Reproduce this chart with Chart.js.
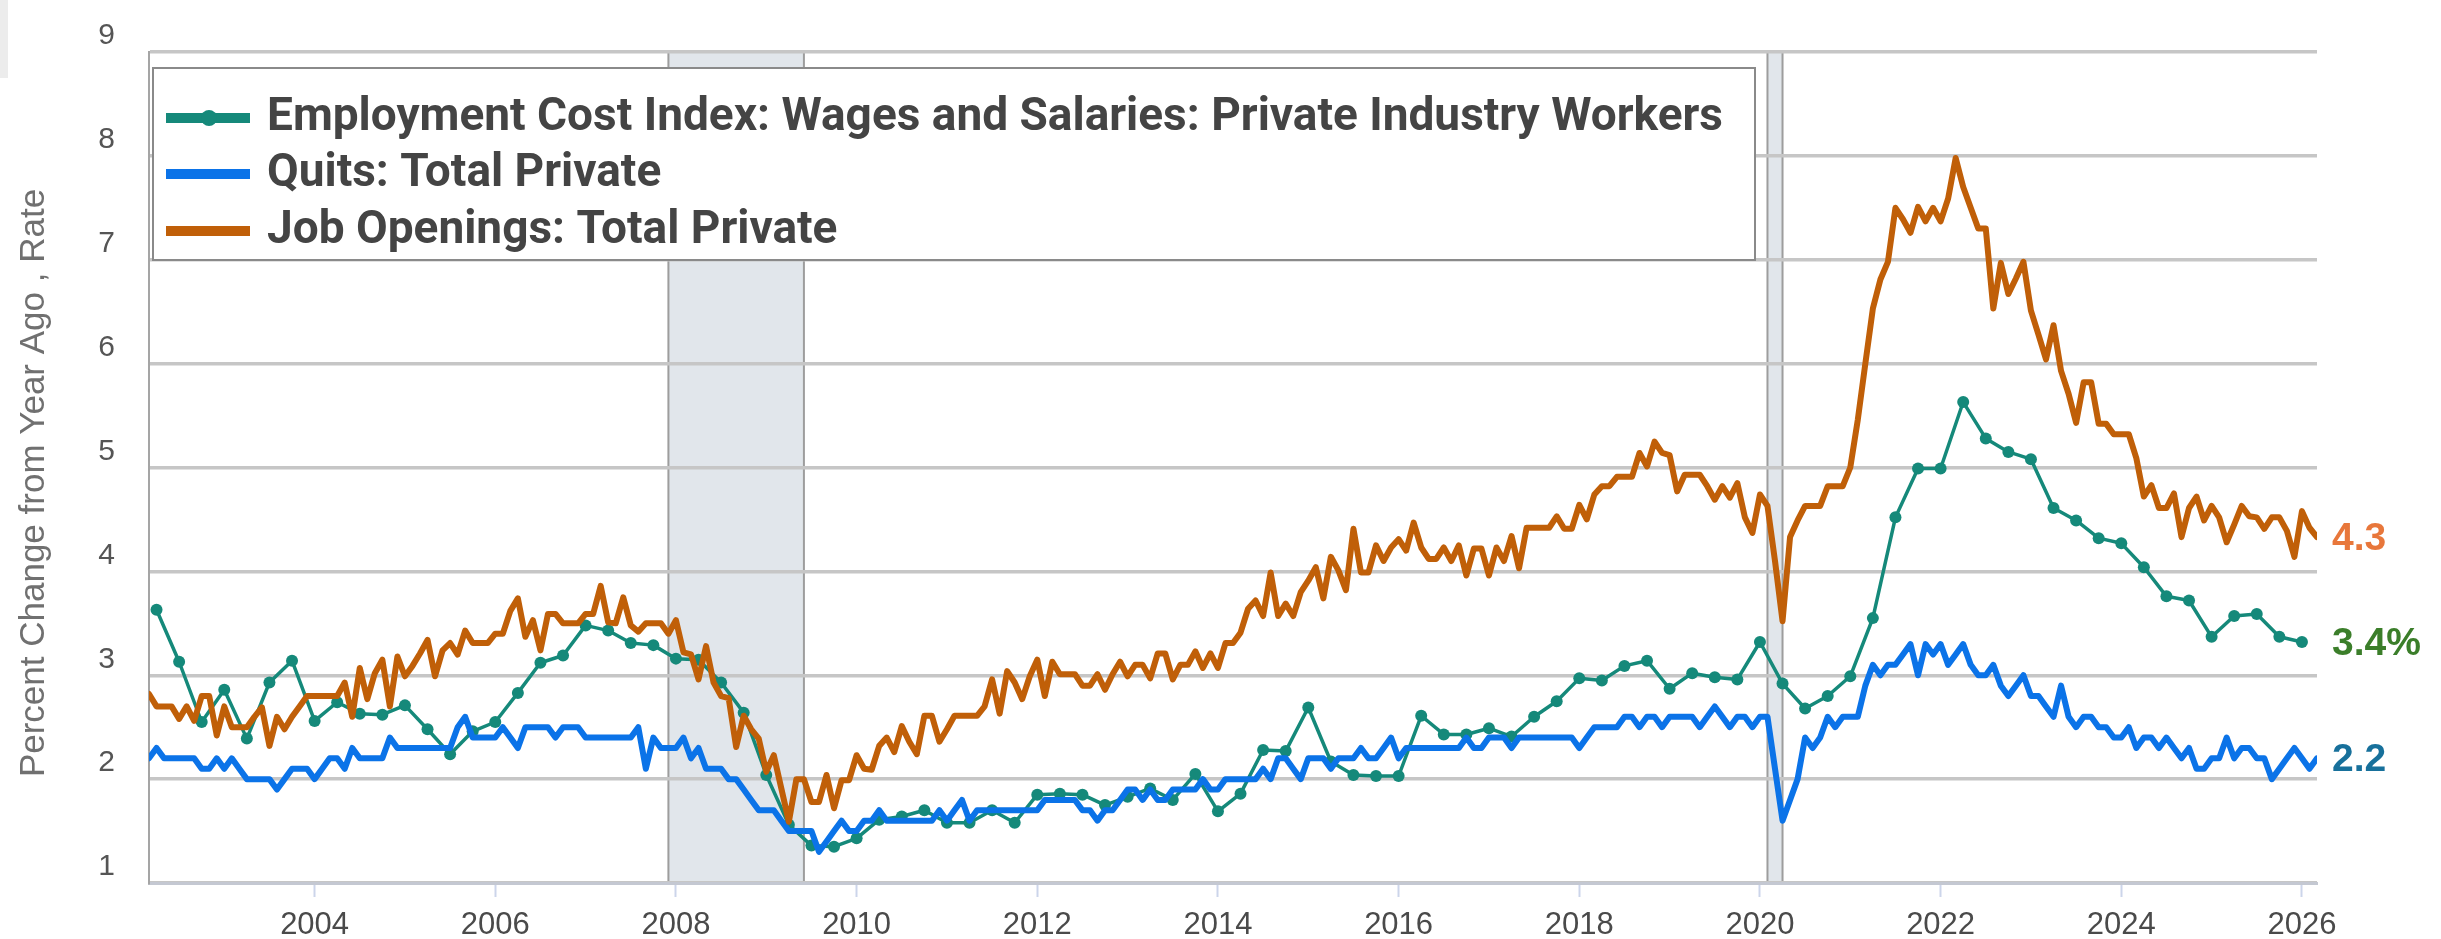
<!DOCTYPE html>
<html><head><meta charset="utf-8">
<script src="https://cdn.jsdelivr.net/npm/chart.js@4.4.1/dist/chart.umd.min.js"></script>
<style>html,body{margin:0;padding:0;background:#fff;overflow:hidden}canvas{display:block}</style>
</head><body>
<canvas id="c" width="2441" height="939"></canvas>
<script>
// ---------- DATA ----------
const seriesNames = [
  'Employment Cost Index: Wages and Salaries: Private Industry Workers',
  'Quits: Total Private',
  'Job Openings: Total Private'
];
const firstMonth = 2002 + 2/12;   // March 2002, monthly series start
const firstQuarter = 2002.25;     // quarterly ECI series start
// ECI wages & salaries, % change from year ago (quarterly)
const eciWages = [
  3.63,3.13,2.55,2.86,2.39,2.93,3.14,2.56,
  2.74,2.63,2.62,2.71,2.48,2.24,2.46,2.55,
  2.83,3.12,3.19,3.48,3.43,3.31,3.29,3.16,
  3.15,2.93,2.64,2.04,1.56,1.36,1.35,1.43,
  1.61,1.64,1.70,1.58,1.58,1.70,1.58,1.85,
  1.86,1.85,1.75,1.83,1.91,1.80,2.05,1.69,
  1.86,2.28,2.27,2.69,2.17,2.04,2.03,2.03,
  2.61,2.43,2.43,2.49,2.41,2.60,2.75,2.97,
  2.95,3.09,3.14,2.87,3.02,2.98,2.96,3.32,
  2.92,2.68,2.80,2.99,3.55,4.52,4.99,4.99,
  5.63,5.28,5.15,5.08,4.61,4.49,4.32,4.27,
  4.04,3.76,3.72,3.37,3.57,3.59,3.37,3.32
];
// Quits rate, total private (monthly)
const quitsRate = [
  2.2,2.3,2.2,2.2,2.2,2.2,2.2,2.1,2.1,2.2,
  2.1,2.2,2.1,2.0,2.0,2.0,2.0,1.9,2.0,2.1,
  2.1,2.1,2.0,2.1,2.2,2.2,2.1,2.3,2.2,2.2,
  2.2,2.2,2.4,2.3,2.3,2.3,2.3,2.3,2.3,2.3,
  2.3,2.5,2.6,2.4,2.4,2.4,2.4,2.5,2.4,2.3,
  2.5,2.5,2.5,2.5,2.4,2.5,2.5,2.5,2.4,2.4,
  2.4,2.4,2.4,2.4,2.4,2.5,2.1,2.4,2.3,2.3,
  2.3,2.4,2.2,2.3,2.1,2.1,2.1,2.0,2.0,1.9,
  1.8,1.7,1.7,1.7,1.6,1.5,1.5,1.5,1.5,1.3,
  1.4,1.5,1.6,1.5,1.5,1.6,1.6,1.7,1.6,1.6,
  1.6,1.6,1.6,1.6,1.6,1.7,1.6,1.7,1.8,1.6,
  1.7,1.7,1.7,1.7,1.7,1.7,1.7,1.7,1.7,1.8,
  1.8,1.8,1.8,1.8,1.7,1.7,1.6,1.7,1.7,1.8,
  1.9,1.9,1.8,1.9,1.8,1.8,1.9,1.9,1.9,1.9,
  2.0,1.9,1.9,2.0,2.0,2.0,2.0,2.0,2.1,2.0,
  2.2,2.2,2.1,2.0,2.2,2.2,2.2,2.1,2.2,2.2,
  2.2,2.3,2.2,2.2,2.3,2.4,2.2,2.3,2.3,2.3,
  2.3,2.3,2.3,2.3,2.3,2.4,2.3,2.3,2.4,2.4,
  2.4,2.3,2.4,2.4,2.4,2.4,2.4,2.4,2.4,2.4,
  2.3,2.4,2.5,2.5,2.5,2.5,2.6,2.6,2.5,2.6,
  2.6,2.5,2.6,2.6,2.6,2.6,2.5,2.6,2.7,2.6,
  2.5,2.6,2.6,2.5,2.6,2.6,2.1,1.6,1.8,2.0,
  2.4,2.3,2.4,2.6,2.5,2.6,2.6,2.6,2.9,3.1,
  3.0,3.1,3.1,3.2,3.3,3.0,3.3,3.2,3.3,3.1,
  3.2,3.3,3.1,3.0,3.0,3.1,2.9,2.8,2.9,3.0,
  2.8,2.8,2.7,2.6,2.9,2.6,2.5,2.6,2.6,2.5,
  2.5,2.4,2.4,2.5,2.3,2.4,2.4,2.3,2.4,2.3,
  2.2,2.3,2.1,2.1,2.2,2.2,2.4,2.2,2.3,2.3,
  2.2,2.2,2.0,2.1,2.2,2.3,2.2,2.1,2.2
];
// Job openings rate, total private (monthly)
const jobOpeningsRate = [
  2.82,2.70,2.70,2.70,2.58,2.70,2.56,2.80,2.80,2.42,
  2.70,2.50,2.50,2.50,2.60,2.69,2.32,2.60,2.48,2.60,
  2.70,2.80,2.80,2.80,2.80,2.80,2.93,2.60,3.07,2.77,
  3.02,3.15,2.70,3.18,2.99,3.09,3.21,3.34,2.99,3.24,
  3.31,3.20,3.43,3.31,3.31,3.31,3.40,3.40,3.62,3.74,
  3.37,3.53,3.24,3.59,3.59,3.50,3.50,3.50,3.59,3.59,
  3.86,3.51,3.50,3.75,3.48,3.42,3.50,3.50,3.50,3.40,
  3.53,3.22,3.20,2.96,3.28,2.93,2.80,2.78,2.31,2.61,
  2.48,2.39,2.07,2.23,1.91,1.59,2.00,2.00,1.78,1.78,
  2.04,1.72,1.99,1.99,2.23,2.10,2.09,2.32,2.40,2.26,
  2.51,2.36,2.24,2.61,2.61,2.36,2.48,2.61,2.61,2.61,
  2.61,2.70,2.96,2.63,3.04,2.93,2.77,2.99,3.15,2.80,
  3.13,3.01,3.01,3.01,2.90,2.90,3.01,2.86,3.01,3.13,
  2.99,3.10,3.10,2.97,3.21,3.21,2.96,3.10,3.10,3.23,
  3.07,3.21,3.07,3.31,3.31,3.41,3.64,3.72,3.57,3.99,
  3.57,3.69,3.57,3.80,3.91,4.04,3.74,4.14,4.01,3.82,
  4.41,3.99,3.99,4.25,4.10,4.23,4.31,4.20,4.47,4.23,
  4.12,4.12,4.23,4.10,4.25,3.96,4.22,4.22,3.96,4.23,
  4.10,4.34,4.03,4.42,4.42,4.42,4.42,4.53,4.41,4.41,
  4.64,4.50,4.74,4.82,4.82,4.91,4.91,4.91,5.14,5.01,
  5.25,5.14,5.12,4.77,4.93,4.93,4.93,4.82,4.69,4.82,
  4.71,4.85,4.52,4.37,4.74,4.63,4.10,3.52,4.33,4.49,
  4.63,4.63,4.63,4.82,4.82,4.82,5.00,5.46,6.00,6.53,
  6.81,6.98,7.50,7.39,7.26,7.51,7.37,7.50,7.37,7.59,
  7.98,7.70,7.50,7.30,7.30,6.53,6.97,6.67,6.82,6.98,
  6.51,6.28,6.04,6.37,5.93,5.71,5.43,5.82,5.82,5.42,
  5.42,5.32,5.32,5.32,5.09,4.72,4.83,4.61,4.61,4.75,
  4.33,4.61,4.72,4.49,4.63,4.52,4.28,4.45,4.63,4.53,
  4.52,4.41,4.52,4.52,4.39,4.14,4.58,4.42,4.33
];
const xTickYears = [2004,2006,2008,2010,2012,2014,2016,2018,2020,2022,2024,2026];
const recessions = [[2007 + 11/12, 2009 + 5/12], [2020 + 1/12, 2020 + 3/12]];
const endLabels = ['3.4%', '2.2', '4.3'];   // ECI, Quits, Job Openings
const yAxisTitle = 'Percent Change from Year Ago , Rate';

// ---------- STYLE ----------
const colECI = '#15897a', colQuits = '#0b73e8', colJO = '#c05f08';
const endLabelColors = ['#3b7e2a', '#17709b', '#e8773b'];
const FONT = '"Liberation Sans", Arial, sans-serif';
Chart.defaults.font.family = FONT;

const decor = {
  id: 'decor',
  beforeDraw(chart) {
    const { ctx, chartArea: a, scales: { x } } = chart;
    ctx.save();
    ctx.fillStyle = '#fff'; ctx.fillRect(0, 0, chart.width, chart.height);
    ctx.fillStyle = '#ececec'; ctx.fillRect(0, 0, 8, 78);
    recessions.forEach(([s, e]) => {
      const x0 = x.getPixelForValue(s), x1 = x.getPixelForValue(e);
      ctx.fillStyle = '#e1e6eb';
      ctx.fillRect(x0, a.top, x1 - x0, a.bottom - a.top);
      ctx.strokeStyle = '#9d9d9d'; ctx.lineWidth = 2;
      ctx.beginPath();
      ctx.moveTo(x0, a.top); ctx.lineTo(x0, a.bottom);
      ctx.moveTo(x1, a.top); ctx.lineTo(x1, a.bottom);
      ctx.stroke();
    });
    ctx.restore();
  },
  afterDraw(chart) {
    const { ctx, chartArea: a, scales: { y } } = chart;
    ctx.save();
    // legend box
    ctx.fillStyle = '#fff';
    ctx.fillRect(153, 68, 1602, 192);
    ctx.strokeStyle = '#8a8a8a'; ctx.lineWidth = 2;
    ctx.strokeRect(153, 68, 1602, 192);
    const rowsY = [118, 174, 231];
    const cols = [colECI, colQuits, colJO];
    seriesNames.forEach((name, i) => {
      ctx.strokeStyle = cols[i]; ctx.lineWidth = 10; ctx.lineCap = 'butt';
      ctx.beginPath(); ctx.moveTo(166, rowsY[i]); ctx.lineTo(250, rowsY[i]); ctx.stroke();
      if (i === 0) {
        ctx.fillStyle = cols[i];
        ctx.beginPath(); ctx.arc(209, rowsY[i], 8, 0, Math.PI * 2); ctx.fill();
      }
      ctx.fillStyle = '#444';
      ctx.font = 'bold 46px "Roboto", sans-serif';
      ctx.textAlign = 'left'; ctx.textBaseline = 'alphabetic';
      ctx.fillText(name, 267, rowsY[i] + 12);
    });
    // y axis title
    ctx.save();
    ctx.translate(34, 483);
    ctx.rotate(-Math.PI / 2);
    ctx.fillStyle = '#707070';
    ctx.font = '35px ' + FONT;
    ctx.textAlign = 'center'; ctx.textBaseline = 'middle';
    ctx.fillText(yAxisTitle, 0, 0);
    ctx.restore();
    // end-of-series labels
    const lastVals = [eciWages[eciWages.length - 1], quitsRate[quitsRate.length - 1], jobOpeningsRate[jobOpeningsRate.length - 1]];
    ctx.font = 'bold 39px ' + FONT;
    ctx.textAlign = 'left'; ctx.textBaseline = 'middle';
    endLabels.forEach((t, i) => {
      ctx.fillStyle = endLabelColors[i];
      ctx.fillText(t, a.right + 15, y.getPixelForValue(lastVals[i]) + 2);
    });
    ctx.restore();
  }
};

new Chart(document.getElementById('c'), {
  type: 'line',
  data: {
    datasets: [
      { label: seriesNames[0], data: eciWages.map((v, i) => ({ x: firstQuarter + i / 4, y: v })),
        borderColor: colECI, backgroundColor: colECI, borderWidth: 3.5,
        pointRadius: 6, pointHoverRadius: 6, pointBackgroundColor: colECI, pointBorderWidth: 0, order: 3 },
      { label: seriesNames[1], data: quitsRate.map((v, i) => ({ x: firstMonth + i / 12, y: v })),
        borderColor: colQuits, borderWidth: 6, pointRadius: 0, order: 2 },
      { label: seriesNames[2], data: jobOpeningsRate.map((v, i) => ({ x: firstMonth + i / 12, y: v })),
        borderColor: colJO, borderWidth: 6, pointRadius: 0, order: 1 }
    ]
  },
  options: {
    responsive: false, animation: false, devicePixelRatio: 1,
    layout: { padding: { top: 43, right: 124, left: 0, bottom: 0 } },
    plugins: { legend: { display: false }, tooltip: { enabled: false } },
    elements: { line: { tension: 0, borderJoinStyle: 'round', borderCapStyle: 'round' } },
    scales: {
      x: {
        type: 'linear',
        min: firstMonth, max: firstMonth + (quitsRate.length - 1) / 12,
        afterBuildTicks: s => { s.ticks = xTickYears.map(v => ({ value: v })); },
        ticks: { callback: v => String(v), font: { size: 31 }, color: '#4a4a4a', padding: 10, maxRotation: 0, autoSkip: false },
        grid: { drawOnChartArea: false, drawTicks: true, tickLength: 14, tickColor: '#ccd5ea', tickWidth: 2 },
        border: { display: true, color: '#c4c8d2', width: 3 },
        afterFit: s => { s.height = 56; }
      },
      y: {
        min: 1, max: 9,
        ticks: { stepSize: 1, font: { size: 30 }, color: '#555', padding: 34, labelOffset: -16 },
        grid: { color: '#c6c6c6', lineWidth: 3.5, drawTicks: false },
        border: { display: true, color: '#a5a5a5', width: 2 },
        afterFit: s => { s.width = 149; }
      }
    }
  },
  plugins: [decor]
});
</script>
</body></html>
